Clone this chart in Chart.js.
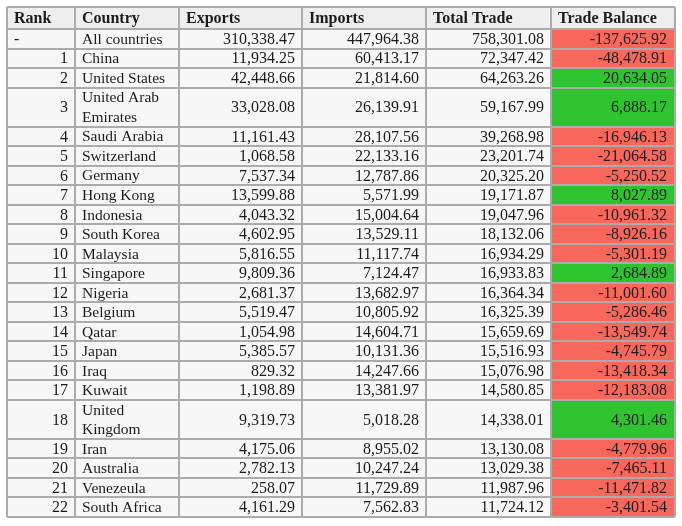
<!DOCTYPE html>
<html>
<head>
<meta charset="utf-8">
<script src="https://cdn.jsdelivr.net/npm/chart.js@4.4.1/dist/chart.umd.min.js"></script>
<style>
html,body{margin:0;padding:0;background:#ffffff;}
#wrap{width:682px;height:526px;}
</style>
</head>
<body>
<div id="wrap"><canvas id="c" width="682" height="526"></canvas></div>
<script>
// ---- data ----
const headers = ['Rank', 'Country', 'Exports', 'Imports', 'Total Trade', 'Trade Balance'];
const ranks = ['-', '1', '2', '3', '4', '5', '6', '7', '8', '9', '10', '11', '12', '13', '14', '15', '16', '17', '18', '19', '20', '21', '22'];
const countries = ['All countries', 'China', 'United States', 'United Arab\nEmirates', 'Saudi Arabia', 'Switzerland', 'Germany', 'Hong Kong', 'Indonesia', 'South Korea', 'Malaysia', 'Singapore', 'Nigeria', 'Belgium', 'Qatar', 'Japan', 'Iraq', 'Kuwait', 'United\nKingdom', 'Iran', 'Australia', 'Venezeula', 'South Africa'];
const exportsVals = [310338.47, 11934.25, 42448.66, 33028.08, 11161.43, 1068.58, 7537.34, 13599.88, 4043.32, 4602.95, 5816.55, 9809.36, 2681.37, 5519.47, 1054.98, 5385.57, 829.32, 1198.89, 9319.73, 4175.06, 2782.13, 258.07, 4161.29];
const importsVals = [447964.38, 60413.17, 21814.60, 26139.91, 28107.56, 22133.16, 12787.86, 5571.99, 15004.64, 13529.11, 11117.74, 7124.47, 13682.97, 10805.92, 14604.71, 10131.36, 14247.66, 13381.97, 5018.28, 8955.02, 10247.24, 11729.89, 7562.83];
const totalTradeVals = [758301.08, 72347.42, 64263.26, 59167.99, 39268.98, 23201.74, 20325.20, 19171.87, 19047.96, 18132.06, 16934.29, 16933.83, 16364.34, 16325.39, 15659.69, 15516.93, 15076.98, 14580.85, 14338.01, 13130.08, 13029.38, 11987.96, 11724.12];
const tradeBalanceVals = [-137625.92, -48478.91, 20634.05, 6888.17, -16946.13, -21064.58, -5250.52, 8027.89, -10961.32, -8926.16, -5301.19, 2684.89, -11001.60, -5286.46, -13549.74, -4745.79, -13418.34, -12183.08, 4301.46, -4779.96, -7465.11, -11471.82, -3401.54];

// ---- layout (kept apart from data) ----
const layout = {
  colWidths: [68, 104, 123, 124, 125, 124],
  headerHeight: 22,
  lineHeight: 19.52,
  pad: 7,
  font: '"Liberation Serif", "Times New Roman", serif',
  headerSize: 16,
  textSize: 15.5,
  numSize: 16,
  headerBg: '#eeeeee',
  bodyBg: '#f7f7f7',
  negBg: '#f8675c',
  posBg: '#2fc42f',
  border: '#ababab',
  text: '#1c1c1c'
};

function fmt(v) {
  const neg = v < 0;
  const a = Math.abs(v).toFixed(2).split('.');
  const intPart = a[0].replace(/\B(?=(\d{3})+(?!\d))/g, ',');
  return (neg ? '-' : '') + intPart + '.' + a[1];
}

const colEdges = [0];
layout.colWidths.forEach(w => colEdges.push(colEdges[colEdges.length - 1] + w));
const rowEdges = [0, layout.headerHeight];
countries.forEach(c => {
  const lines = c.split('\n').length;
  rowEdges.push(rowEdges[rowEdges.length - 1] + lines * layout.lineHeight);
});

const tablePlugin = {
  id: 'tablePlugin',
  beforeDraw(chart) {
    const ctx = chart.ctx, xs = chart.scales.x, ys = chart.scales.y;
    ctx.save();
    const X = v => xs.getPixelForValue(v), Y = v => ys.getPixelForValue(v);
    ctx.fillStyle = layout.headerBg;
    ctx.fillRect(X(colEdges[0]), Y(rowEdges[0]), X(colEdges[6]) - X(colEdges[0]), Y(rowEdges[1]) - Y(rowEdges[0]));
    ctx.fillStyle = layout.bodyBg;
    ctx.fillRect(X(colEdges[0]), Y(rowEdges[1]), X(colEdges[6]) - X(colEdges[0]), Y(rowEdges[rowEdges.length - 1]) - Y(rowEdges[1]));
    tradeBalanceVals.forEach((v, i) => {
      ctx.fillStyle = v < 0 ? layout.negBg : layout.posBg;
      ctx.fillRect(X(colEdges[5]), Y(rowEdges[i + 1]), X(colEdges[6]) - X(colEdges[5]), Y(rowEdges[i + 2]) - Y(rowEdges[i + 1]));
    });
    ctx.restore();
  },
  afterDraw(chart) {
    const ctx = chart.ctx, xs = chart.scales.x, ys = chart.scales.y;
    const X = v => xs.getPixelForValue(v), Y = v => ys.getPixelForValue(v);
    ctx.save();
    ctx.fillStyle = layout.text;
    ctx.textBaseline = 'middle';
    ctx.font = 'bold ' + layout.headerSize + 'px ' + layout.font;
    ctx.textAlign = 'left';
    const hy = (Y(rowEdges[0]) + Y(rowEdges[1])) / 2 + 1;
    headers.forEach((h, j) => ctx.fillText(h, X(colEdges[j]) + layout.pad, hy));
    const textFont = layout.textSize + 'px ' + layout.font;
    const numFont = layout.numSize + 'px ' + layout.font;
    countries.forEach((c, i) => {
      const y0 = Y(rowEdges[i + 1]), y1 = Y(rowEdges[i + 2]);
      const cy = (y0 + y1) / 2 + 1;
      ctx.font = numFont;
      if (ranks[i] === '-') {
        ctx.textAlign = 'left';
        ctx.fillText(ranks[i], X(colEdges[0]) + layout.pad, cy);
      } else {
        ctx.textAlign = 'right';
        ctx.fillText(ranks[i], X(colEdges[1]) - layout.pad, cy);
      }
      ctx.font = textFont;
      ctx.textAlign = 'left';
      const lines = c.split('\n');
      const lh = (y1 - y0) / lines.length;
      lines.forEach((ln, k) => ctx.fillText(ln, X(colEdges[1]) + layout.pad, y0 + lh * (k + 0.5) + 1));
      ctx.font = numFont;
      ctx.textAlign = 'right';
      ctx.fillText(fmt(exportsVals[i]), X(colEdges[3]) - layout.pad, cy);
      ctx.fillText(fmt(importsVals[i]), X(colEdges[4]) - layout.pad, cy);
      ctx.fillText(fmt(totalTradeVals[i]), X(colEdges[5]) - layout.pad, cy);
      ctx.fillText(fmt(tradeBalanceVals[i]), X(colEdges[6]) - layout.pad - 1, cy);
    });
    ctx.restore();
  }
};

const gridOpts = { color: layout.border, lineWidth: 2, drawTicks: false };

new Chart(document.getElementById('c'), {
  type: 'scatter',
  data: { datasets: [] },
  options: {
    responsive: false,
    animation: false,
    devicePixelRatio: 1,
    layout: { padding: { left: 7, top: 7, right: 7, bottom: 9 } },
    plugins: { legend: { display: false }, tooltip: { enabled: false } },
    scales: {
      x: {
        type: 'linear',
        min: colEdges[0],
        max: colEdges[colEdges.length - 1],
        ticks: { display: false },
        grid: gridOpts,
        border: { display: false },
        afterBuildTicks: s => { s.ticks = colEdges.map(v => ({ value: v })); }
      },
      y: {
        type: 'linear',
        reverse: true,
        min: rowEdges[0],
        max: rowEdges[rowEdges.length - 1],
        ticks: { display: false },
        grid: gridOpts,
        border: { display: false },
        afterBuildTicks: s => { s.ticks = rowEdges.map(v => ({ value: v })); }
      }
    }
  },
  plugins: [tablePlugin]
});
</script>
</body>
</html>
